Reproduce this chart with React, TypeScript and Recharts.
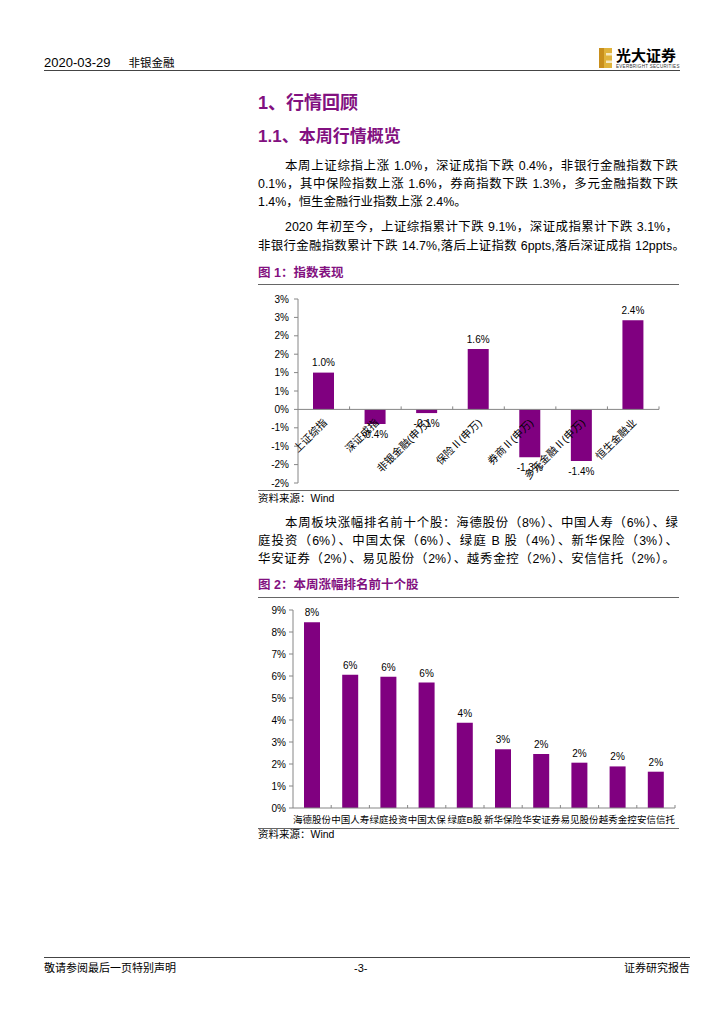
import { BarChart, Bar, XAxis, YAxis, ReferenceLine, LabelList } from 'recharts';

// 图1 指数表现
const indexNames = ['上证综指', '深证成指', '非银金融(申万)', '保险Ⅱ(申万)', '券商Ⅱ(申万)', '多元金融Ⅱ(申万)', '恒生金融业'];
const indexChange = [1.0, -0.4, -0.1, 1.64, -1.3, -1.4, 2.42];
const indexTicks = [-2, -1.5, -1, -0.5, 0, 0.5, 1, 1.5, 2, 2.5, 3];

// 图2 本周涨幅排名前十个股
const stockNames = ['海德股份', '中国人寿', '绿庭投资', '中国太保', '绿庭B股', '新华保险', '华安证券', '易见股份', '越秀金控', '安信信托'];
const stockGains = [8.44, 6.06, 5.97, 5.7, 3.88, 2.67, 2.45, 2.06, 1.89, 1.65];
const gainTicks = [0, 1, 2, 3, 4, 5, 6, 7, 8, 9];

const PURPLE = '#800080';
const HEAD = '#821080';
const AXIS = '#868686';
const FONT = '"Liberation Sans", Arial, "Noto Sans CJK SC", sans-serif';

const C1 = { w: 440, h: 200, top: 9, right: 31, bottom: 6, left: 8, yw: 40, xh: 1 };
const C1_PLOT_W = C1.w - C1.left - C1.right - C1.yw;
const C1_PLOT_H = C1.h - C1.top - C1.bottom - C1.xh;
const C1_DOMAIN: [number, number] = [-2, 3];

const C2 = { w: 440, h: 228, top: 10, right: 15, bottom: 0, left: 8, yw: 35, xh: 20 };
const C2_PLOT_W = C2.w - C2.left - C2.right - C2.yw;

const pct0 = (v: number) => (v < 0 ? '-' : '') + Math.round(Math.abs(v)) + '%';

function box(props: any) {
  const vb = props.viewBox || {};
  const x = props.x ?? vb.x;
  const y = props.y ?? vb.y;
  const w = props.width ?? vb.width;
  const h = props.height ?? vb.height;
  return { x, y, w, h };
}

function changeLabel(props: any) {
  const { x, y, w, h } = box(props);
  const v = Number(props.value);
  const ty = v >= 0 ? Math.min(y, y + h) - 6.5 : Math.max(y, y + h) + 14;
  return (
    <text x={x + w / 2} y={ty} textAnchor="middle" fontSize={10} fill="#000" fontFamily={FONT}>
      {v.toFixed(1)}%
    </text>
  );
}

function gainLabel(props: any) {
  const { x, y, w, h } = box(props);
  const v = Number(props.value);
  return (
    <text x={x + w / 2} y={Math.min(y, y + h) - 6} textAnchor="middle" fontSize={10} fill="#000" fontFamily={FONT}>
      {Math.round(v)}%
    </text>
  );
}

// category labels sit on the zero line, rotated like Excel does
function IndexTick(props: any) {
  const { x, y, payload, index } = props;
  const zeroY = y - (C1_PLOT_H * (0 - C1_DOMAIN[0])) / (C1_DOMAIN[1] - C1_DOMAIN[0]);
  const band = C1_PLOT_W / indexNames.length;
  const ax = x + 4;
  const ay = zeroY + 14;
  return (
    <g>
      {index > 0 && <line x1={x - band / 2} x2={x - band / 2} y1={zeroY} y2={zeroY - 3} stroke={AXIS} />}
      {index === indexNames.length - 1 && (
        <line x1={x + band / 2} x2={x + band / 2} y1={zeroY} y2={zeroY - 3} stroke={AXIS} />
      )}
      <text x={ax} y={ay} textAnchor="end" transform={`rotate(-45 ${ax} ${ay})`} fontSize={10.5} fill="#000" fontFamily={FONT}>
        {payload.value}
      </text>
    </g>
  );
}

function StockTick(props: any) {
  const { x, y, payload, index } = props;
  const band = C2_PLOT_W / stockNames.length;
  return (
    <g>
      {index > 0 && <line x1={x - band / 2} x2={x - band / 2} y1={y} y2={y - 3} stroke={AXIS} />}
      {index === stockNames.length - 1 && <line x1={x + band / 2} x2={x + band / 2} y1={y} y2={y - 3} stroke={AXIS} />}
      <text x={x} y={y + 14.5} textAnchor="middle" fontSize={9.5} fill="#000" fontFamily={FONT}>
        {payload.value}
      </text>
    </g>
  );
}

function T({ top, left, size = 12.4, width, justify, bold, color = '#000', lh = 18, children }: any) {
  return (
    <div
      style={{
        position: 'absolute',
        top,
        left,
        width,
        fontSize: size,
        lineHeight: lh + 'px',
        fontWeight: bold ? 700 : 400,
        color,
        whiteSpace: 'nowrap',
        textAlign: justify ? 'justify' : 'left',
        textAlignLast: justify ? 'justify' : 'auto',
      }}
    >
      {children}
    </div>
  );
}

function Rule({ top, left, width, weight = 1, color = '#666' }: any) {
  return <div style={{ position: 'absolute', top, left, width, height: 0, borderTop: `${weight}px solid ${color}` }} />;
}

export default function App() {
  const data1 = indexNames.map((name, i) => ({ name, value: indexChange[i] }));
  const data2 = stockNames.map((name, i) => ({ name, value: stockGains[i] }));
  return (
    <div
      lang="zh-CN"
      style={{ position: 'absolute', left: 0, top: 0, width: 724, height: 1024, background: '#fff', fontFamily: FONT, color: '#000' }}
    >
      {/* header */}
      <T top={55} left={44} size={13} lh={16}>
        2020-03-29<span style={{ marginLeft: 18, fontSize: 11.5 }}>非银金融</span>
      </T>
      <Rule top={70} left={44} width={636} weight={1.5} color="#444" />
      <svg style={{ position: 'absolute', left: 599, top: 48 }} width={14} height={21}>
        <rect x={0} y={0} width={13} height={20} fill="#e0b33c" />
        <rect x={0} y={0} width={5} height={20} fill="#c98f1c" />
        <rect x={7} y={5} width={6} height={2.5} fill="#f6e9c2" />
        <rect x={7} y={12.5} width={6} height={2.5} fill="#f6e9c2" />
      </svg>
      <T top={47} left={616} size={15} lh={18} bold>光大证券</T>
      <div style={{ position: 'absolute', top: 64, left: 616, fontSize: 4.5, lineHeight: '6px', letterSpacing: 0.3, color: '#333' }}>
        EVERBRIGHT SECURITIES
      </div>

      {/* headings */}
      <T top={92} left={258} size={18} lh={22} bold color={HEAD}>1、行情回顾</T>
      <T top={126} left={258} size={17} lh={22} bold color={HEAD}>1.1、本周行情概览</T>

      <T top={157} left={285} width={393} justify>本周上证综指上涨 1.0%，深证成指下跌 0.4%，非银行金融指数下跌</T>
      <T top={175} left={258} width={420} justify>0.1%，其中保险指数上涨 1.6%，券商指数下跌 1.3%，多元金融指数下跌</T>
      <T top={193} left={258}>1.4%，恒生金融行业指数上涨 2.4%。</T>

      <T top={218} left={285} width={393} justify>2020 年初至今，上证综指累计下跌 9.1%，深证成指累计下跌 3.1%，</T>
      <T top={237} left={258} width={427} justify>非银行金融指数累计下跌 14.7%,落后上证指数 6ppts,落后深证成指 12ppts。</T>

      <T top={264} left={258} size={12.5} lh={18} bold color={HEAD}>图 1：指数表现</T>
      <Rule top={284} left={258} width={421} />

      <div style={{ position: 'absolute', left: 250, top: 290 }}>
        <BarChart
          width={C1.w}
          height={C1.h}
          data={data1}
          margin={{ top: C1.top, right: C1.right, bottom: C1.bottom, left: C1.left }}
        >
          <XAxis
            dataKey="name"
            height={C1.xh}
            axisLine={false}
            tickLine={false}
            tickSize={0}
            tickMargin={0}
            interval={0}
            tick={(p: any) => <IndexTick {...p} />}
          />
          <YAxis
            width={C1.yw}
            domain={C1_DOMAIN}
            ticks={indexTicks}
            interval={0}
            tickFormatter={pct0}
            axisLine={{ stroke: AXIS }}
            tickLine={{ stroke: AXIS }}
            tickSize={4}
            tickMargin={5}
            tick={{ fontSize: 10, fill: '#000', fontFamily: FONT }}
          />
          <ReferenceLine y={0} stroke={AXIS} />
          <Bar dataKey="value" fill={PURPLE} barSize={21} isAnimationActive={false}>
            <LabelList dataKey="value" content={changeLabel} />
          </Bar>
        </BarChart>
      </div>
      <Rule top={490} left={258} width={421} />
      <T top={491} left={258} size={10.5} lh={15}>资料来源：Wind</T>

      <T top={514} left={285} width={393} justify>本周板块涨幅排名前十个股：海德股份（8%）、中国人寿（6%）、绿</T>
      <T top={532} left={258} width={420} justify>庭投资（6%）、中国太保（6%）、绿庭 B 股（4%）、新华保险（3%）、</T>
      <T top={550} left={258} width={417} justify>华安证券（2%）、易见股份（2%）、越秀金控（2%）、安信信托（2%）。</T>

      <T top={576} left={258} size={12.5} lh={18} bold color={HEAD}>图 2：本周涨幅排名前十个股</T>
      <Rule top={597} left={258} width={421} />

      <div style={{ position: 'absolute', left: 250, top: 600 }}>
        <BarChart
          width={C2.w}
          height={C2.h}
          data={data2}
          margin={{ top: C2.top, right: C2.right, bottom: C2.bottom, left: C2.left }}
        >
          <XAxis
            dataKey="name"
            height={C2.xh}
            axisLine={{ stroke: AXIS }}
            tickLine={false}
            tickSize={0}
            tickMargin={0}
            interval={0}
            tick={(p: any) => <StockTick {...p} />}
          />
          <YAxis
            width={C2.yw}
            domain={[0, 9]}
            ticks={gainTicks}
            interval={0}
            tickFormatter={(v: number) => v + '%'}
            axisLine={{ stroke: AXIS }}
            tickLine={{ stroke: AXIS }}
            tickSize={4}
            tickMargin={3}
            tick={{ fontSize: 10, fill: '#000', fontFamily: FONT }}
          />
          <Bar dataKey="value" fill={PURPLE} barSize={16} isAnimationActive={false}>
            <LabelList dataKey="value" content={gainLabel} />
          </Bar>
        </BarChart>
      </div>
      <Rule top={828} left={258} width={421} />
      <T top={827} left={258} size={10.5} lh={15}>资料来源：Wind</T>

      {/* footer */}
      <Rule top={957} left={44} width={646} weight={1.5} color="#444" />
      <T top={961} left={44} size={11} lh={15}>敬请参阅最后一页特别声明</T>
      <T top={961} left={354} size={11} lh={15}>-3-</T>
      <div style={{ position: 'absolute', top: 961, right: 724 - 690, fontSize: 11, lineHeight: '15px' }}>证券研究报告</div>
    </div>
  );
}
